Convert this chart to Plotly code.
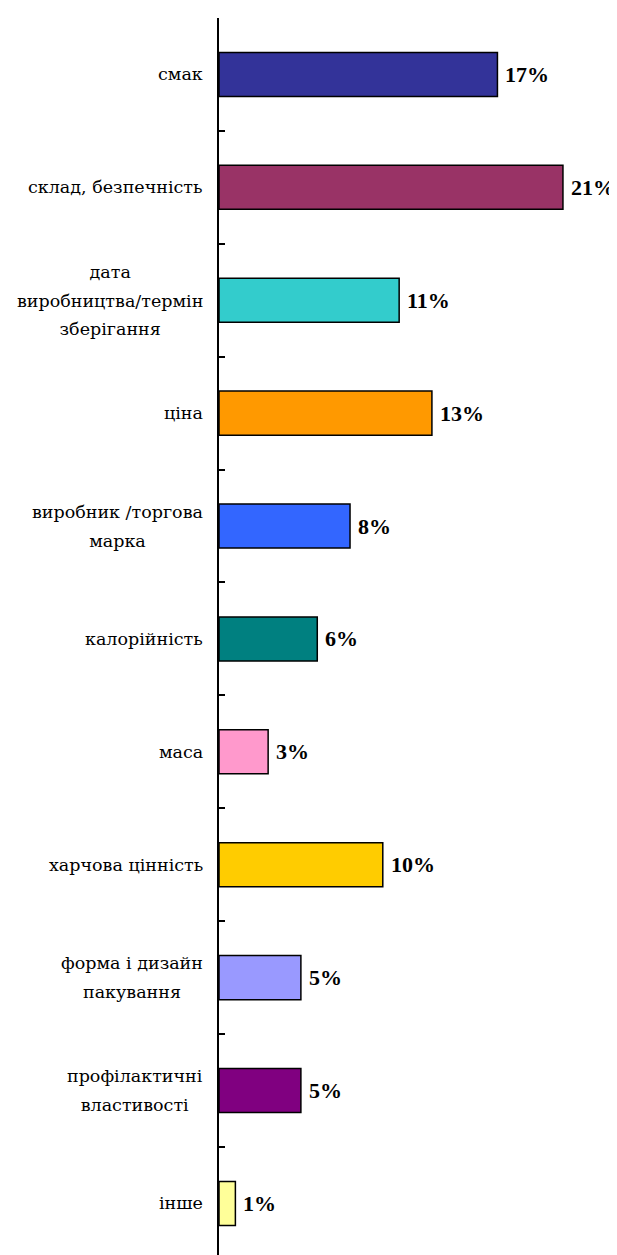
import plotly.graph_objects as go

categories = [
    "смак",
    "склад, безпечність",
    "дата<br>виробництва/термін<br>зберігання",
    "ціна",
    "виробник /торгова<br>марка",
    "калорійність",
    "маса",
    "харчова цінність",
    "форма і дизайн<br>пакування",
    "профілактичні<br>властивості",
    "інше",
]
values = [17, 21, 11, 13, 8, 6, 3, 10, 5, 5, 1]
value_labels = ["17%", "21%", "11%", "13%", "8%", "6%", "3%", "10%", "5%", "5%", "1%"]
colors = ["#333399", "#993366", "#33CCCC", "#FF9900", "#3366FF", "#008080",
          "#FF99CC", "#FFCC00", "#9999FF", "#800080", "#FFFF99"]

ids = list(range(len(categories)))
boundaries = [i - 0.5 for i in ids] + [len(ids) - 0.5]

fig = go.Figure()
fig.add_trace(go.Bar(
    x=values, y=ids, orientation="h",
    marker=dict(color=colors, line=dict(color="black", width=1.5)),
    width=0.39, hoverinfo="skip",
))

LABEL_FONT = "DejaVu Serif, serif"
VALUE_FONT = "Liberation Serif, DejaVu Serif, serif"


def styled(label):
    # small glyphs inside a larger-size annotation -> wider line spacing
    return "<br>".join('<span style="font-size:17.5px">' + part + "</span>"
                       for part in label.split("<br>"))


annotations = []
for i, (c, v, t) in enumerate(zip(categories, values, value_labels)):
    annotations.append(dict(
        x=0, xref="paper", y=i, yref="y", text=styled(c), showarrow=False,
        xanchor="right", yanchor="middle", align="center", xshift=-14,
        font=dict(family=LABEL_FONT, size=22, color="black"),
    ))
    annotations.append(dict(
        x=v, xref="x", y=i, yref="y", text="<b>" + t + "</b>", showarrow=False,
        xanchor="left", yanchor="middle", xshift=6,
        font=dict(family=VALUE_FONT, size=22, color="black"),
    ))

fig.update_layout(
    width=609, height=1247,
    margin=dict(l=211, r=0, t=10, b=0),
    paper_bgcolor="white", plot_bgcolor="white",
    showlegend=False,
    annotations=annotations,
    xaxis=dict(range=[0, 24.3], visible=False, fixedrange=True),
    yaxis=dict(
        range=[10.457, -0.5], tickmode="array", tickvals=boundaries,
        showticklabels=False, showgrid=False, zeroline=False,
        showline=True, linecolor="black", linewidth=2,
        ticks="inside", ticklen=6, tickwidth=1.5, tickcolor="black",
        fixedrange=True,
    ),
)

fig.write_html("out.html")
